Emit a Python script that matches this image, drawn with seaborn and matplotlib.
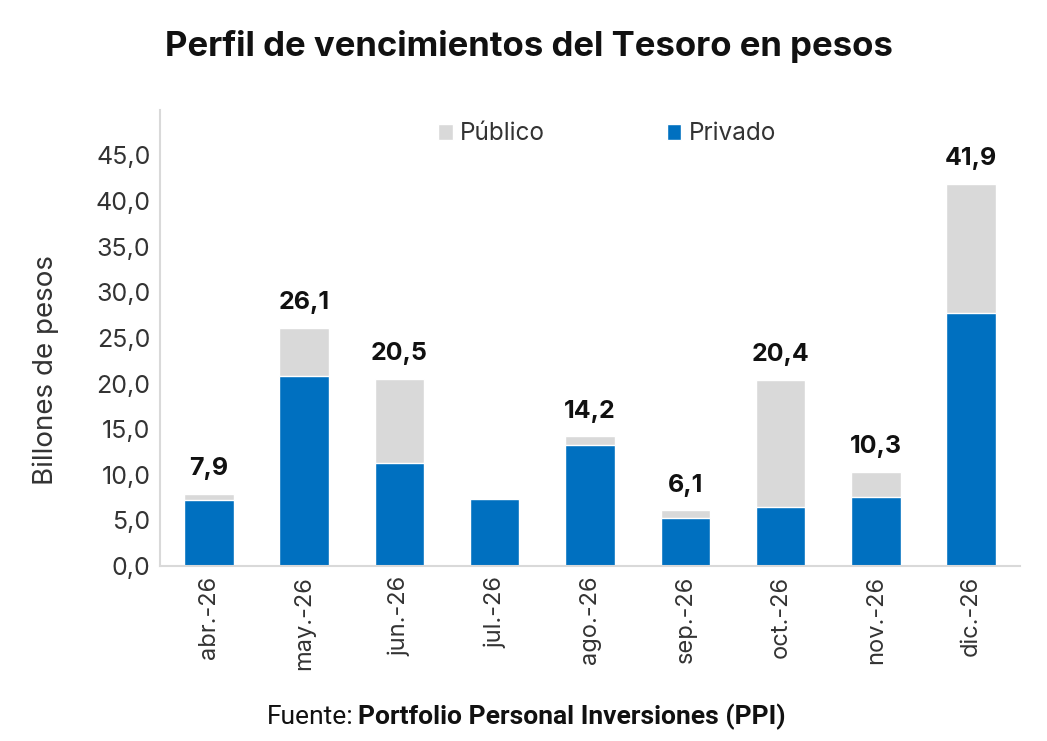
import matplotlib
matplotlib.use("Agg")
import matplotlib.pyplot as plt
import seaborn as sns
import pandas as pd

meses = ["abr.-26", "may.-26", "jun.-26", "jul.-26", "ago.-26",
         "sep.-26", "oct.-26", "nov.-26", "dic.-26"]
privado = [7.2, 20.8, 11.3, 7.3, 13.3, 5.3, 6.5, 7.6, 27.7]
total = [7.9, 26.1, 20.5, 7.3, 14.2, 6.1, 20.4, 10.3, 41.9]
# jul. no lleva etiqueta en el original
etiquetas = ["7,9", "26,1", "20,5", "", "14,2", "6,1", "20,4", "10,3", "41,9"]

AZUL = "#0070C0"
GRIS = "#D9D9D9"

sns.set_style("white")
plt.rcParams['font.family'] = ['Inter', 'DejaVu Sans']

df = pd.DataFrame({"mes": meses, "privado": privado, "total": total})

fig = plt.figure(figsize=(10.47, 7.41), dpi=100)
ax = fig.add_axes([0.153, 0.236, 0.821, 0.616])

sns.barplot(data=df, x="mes", y="total", color=GRIS, width=0.52,
            saturation=1, ax=ax, label="Público")
sns.barplot(data=df, x="mes", y="privado", color=AZUL, width=0.52,
            saturation=1, ax=ax, label="Privado")

for i, (t, lab) in enumerate(zip(total, etiquetas)):
    if lab:
        ax.text(i, t + 1.5, lab, ha="center", va="bottom",
                fontsize=18, fontweight="bold", color="#111111")

ax.set_ylim(0, 50)
ax.set_xlim(-0.51, 8.51)
ax.set_yticks(range(0, 50, 5))
ax.set_yticklabels([f"{v},0" for v in range(0, 50, 5)], fontsize=18, color="#333333")
ax.set_xticks(range(len(meses)))
ax.set_xticklabels(meses, rotation=90, fontsize=17, color="#333333")
ax.tick_params(axis="both", length=0, pad=7)
ax.set_xlabel("")
ax.set_ylabel("Billones de pesos", fontsize=20, color="#333333")
ax.yaxis.set_label_coords(-0.118, 0.43)

for s in ["top", "right"]:
    ax.spines[s].set_visible(False)
for s in ["left", "bottom"]:
    ax.spines[s].set_color("#D9D9D9")
    ax.spines[s].set_linewidth(1.5)

ax.legend(loc="upper center", bbox_to_anchor=(0.52, 1.02), ncol=2, frameon=False,
          fontsize=17.5, handlelength=0.6, handleheight=0.6, handletextpad=0.3,
          columnspacing=5.0, labelcolor="#333333")

fig.text(0.505, 0.937, "Perfil de vencimientos del Tesoro en pesos",
         ha="center", va="center", fontsize=25, fontweight="bold", color="#111111")

fig.text(0.338, 0.032, "Fuente:", ha="right", va="center", fontsize=19,
         family=["Roboto", "DejaVu Sans"], color="#111111")
fig.text(0.342, 0.032, "Portfolio Personal Inversiones (PPI)", ha="left",
         va="center", fontsize=19, fontweight="bold",
         family=["Roboto", "DejaVu Sans"], color="#111111")

fig.savefig("out.png", dpi=100)
